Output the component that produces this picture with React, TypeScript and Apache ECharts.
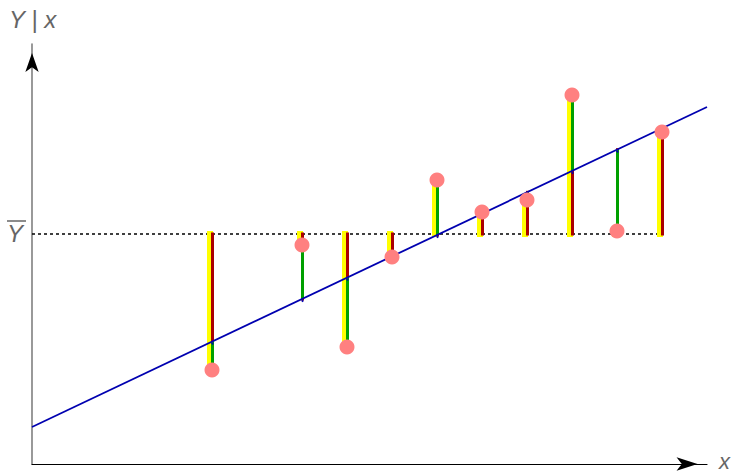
import React, { useEffect, useRef } from "react";
import * as echarts from "echarts";

// data
const xs = [4, 6, 7, 8, 9, 10, 11, 12, 13, 14];
const ys = [4.7, 10.95, 5.85, 10.35, 14.2, 12.6, 13.2, 18.45, 11.65, 16.6];
const yBar = 11.5;
const intercept = 1.85;
const slope = 1.0667;
const xMin = 0;
const xMax = 15;
const yMin = 0;
const yMax = 21;
const axisLabelY = "Y | x";
const axisLabelX = "x";
const meanLabel = "Y";

export default function App() {
  const ref = useRef<HTMLDivElement>(null);
  useEffect(() => {
    document.body.style.margin = "0";
    const chart = echarts.init(ref.current!, undefined, { renderer: "svg" });
    const pts = xs.map((x, i) => [x, ys[i]]);
    const lastX = xs[xs.length - 1];
    const option: any = {
      animation: false,
      grid: { left: 32, right: 29, top: 44, bottom: 8 },
      xAxis: {
        type: "value",
        min: xMin,
        max: xMax,
        axisLine: { show: true, lineStyle: { color: "#000", width: 1.2 } },
        axisTick: { show: false },
        axisLabel: { show: false },
        splitLine: { show: false },
      },
      yAxis: {
        type: "value",
        min: yMin,
        max: yMax,
        axisLine: { show: true, onZero: false, lineStyle: { color: "#808080", width: 1.6 } },
        axisTick: { show: false },
        axisLabel: { show: false },
        splitLine: { show: false },
      },
      series: [
        {
          type: "line",
          data: [[xMin, yBar], [lastX, yBar]],
          symbol: "none",
          lineStyle: { color: "#000", width: 1.7, type: [3, 3] },
          silent: true,
          z: 1,
        },
        {
          type: "custom",
          data: pts,
          z: 2,
          silent: true,
          renderItem: (params: any, api: any) => {
            const x = api.value(0);
            const y = api.value(1);
            const yh = intercept + slope * x;
            const p0 = api.coord([x, yBar]);
            const p1 = api.coord([x, y]);
            const ph = api.coord([x, yh]);
            return {
              type: "group",
              children: [
                {
                  type: "line",
                  shape: { x1: p0[0] - 2, y1: p0[1], x2: p1[0] - 2, y2: p1[1] },
                  style: { stroke: "#ffff00", lineWidth: 6, lineCap: "square" },
                },
                {
                  type: "line",
                  shape: { x1: p0[0] + 0.5, y1: p0[1], x2: ph[0] + 0.5, y2: ph[1] },
                  style: { stroke: "#aa0000", lineWidth: 3, lineCap: "square" },
                },
                {
                  type: "line",
                  shape: { x1: ph[0] + 0.5, y1: ph[1], x2: p1[0] + 0.5, y2: p1[1] },
                  style: { stroke: "#00a000", lineWidth: 3, lineCap: "butt" },
                },
              ],
            };
          },
        },
        {
          type: "line",
          data: [[xMin, intercept + slope * xMin], [xMax, intercept + slope * xMax]],
          symbol: "none",
          lineStyle: { color: "#0000b0", width: 1.8 },
          silent: true,
          z: 3,
        },
        {
          type: "custom",
          data: pts,
          z: 4,
          silent: true,
          renderItem: (params: any, api: any) => {
            const x = api.value(0);
            const ph = api.coord([x, intercept + slope * x]);
            return {
              type: "circle",
              shape: { cx: ph[0] + 0.5, cy: ph[1] + 2, r: 1 },
              style: { fill: "#0000b0" },
            };
          },
        },
        {
          type: "scatter",
          data: pts,
          symbol: "circle",
          symbolSize: 15,
          itemStyle: { color: "#ff8080", opacity: 1 },
          silent: true,
          z: 5,
        },
        {
          type: "scatter",
          data: [[xMin, 20.55]],
          symbol: "arrow",
          symbolSize: [10, 19],
          itemStyle: { color: "#000", opacity: 1 },
          silent: true,
          clip: false,
          z: 6,
        },
        {
          type: "scatter",
          data: [[14.79, yMin]],
          symbol: "arrow",
          symbolSize: [10, 21],
          symbolRotate: -90,
          itemStyle: { color: "#000", opacity: 1 },
          silent: true,
          clip: false,
          z: 6,
        },
      ],
    };
    chart.setOption(option);
    const pm = chart.convertToPixel({ gridIndex: 0 }, [xMin, yBar]) as number[];
    const font = 'italic 24px "Liberation Sans", sans-serif';
    chart.setOption({
      graphic: [
        {
          type: "text",
          x: 9,
          y: 19,
          style: {
            text: axisLabelY,
            fill: "#666",
            font,
            textAlign: "left",
            textVerticalAlign: "middle",
            align: "left",
            verticalAlign: "middle",
          },
        },
        {
          type: "text",
          x: 7,
          y: pm[1] - 1,
          style: {
            text: meanLabel,
            fill: "#666",
            font,
            textAlign: "left",
            textVerticalAlign: "middle",
            align: "left",
            verticalAlign: "middle",
          },
        },
        {
          type: "line",
          shape: { x1: 7, y1: pm[1] - 13, x2: 26, y2: pm[1] - 13 },
          style: { stroke: "#666", lineWidth: 1.5 },
        },
        {
          type: "text",
          x: 719,
          y: 472,
          style: {
            text: axisLabelX,
            fill: "#666",
            font: 'italic 22px "Liberation Sans", sans-serif',
            textAlign: "left",
            textVerticalAlign: "bottom",
            align: "left",
            verticalAlign: "bottom",
          },
        },
      ],
    });
    return () => chart.dispose();
  }, []);
  return <div ref={ref} style={{ width: 736, height: 472 }} />;
}
